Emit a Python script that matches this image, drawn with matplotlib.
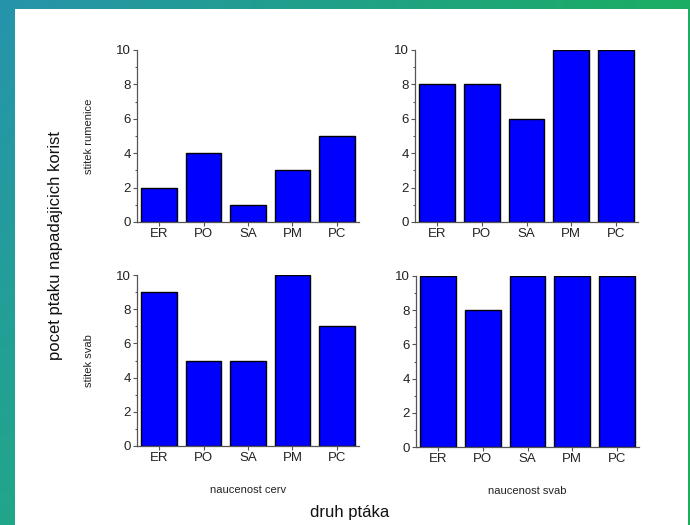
import numpy as np
import matplotlib
matplotlib.use("Agg")
import matplotlib.pyplot as plt
from matplotlib.patches import Rectangle
from matplotlib.ticker import MultipleLocator

plt.rcParams['font.family'] = ['Liberation Sans', 'DejaVu Sans']

birds = ["ER", "PO", "SA", "PM", "PC"]
# radky: stitek (rumenice, svab), sloupce: naucenost (cerv, svab)
rumenice_cerv = [2, 4, 1, 3, 5]
rumenice_svab = [8, 8, 6, 10, 10]
svab_cerv = [9, 5, 5, 10, 7]
svab_svab = [10, 8, 10, 10, 10]

W, H = 690, 525
fig = plt.figure(figsize=(W / 100, H / 100), dpi=100)

# pozadi s prechodem barev
bg = fig.add_axes([0, 0, 1, 1], zorder=-10)
xs = np.linspace(0, 1, 200)
ys = np.linspace(0, 1, 200)
X, Y = np.meshgrid(xs, ys)
c_tl = np.array([38, 148, 172]) / 255
c_tr = np.array([27, 174, 98]) / 255
c_bl = np.array([33, 166, 138]) / 255
c_br = np.array([27, 176, 90]) / 255
img = (c_tl * ((1 - X) * (1 - Y))[..., None] + c_tr * (X * (1 - Y))[..., None]
       + c_bl * ((1 - X) * Y)[..., None] + c_br * (X * Y)[..., None])
bg.imshow(img, extent=[0, 1, 0, 1], aspect="auto", origin="upper")
bg.add_patch(Rectangle((15 / W, 0), (688 - 15) / W, 1 - 9 / H,
                       facecolor="white", edgecolor="none"))
bg.set_xlim(0, 1)
bg.set_ylim(0, 1)
bg.axis("off")


def panel(rect, vals, ylabel=None, xlabel=None):
    ax = fig.add_axes(rect)
    x = np.arange(len(birds))
    ax.bar(x, vals, width=0.8, color="#0000ff", edgecolor="black", linewidth=1)
    ax.set_xlim(-0.5, 4.5)
    ax.set_ylim(0, 10)
    ax.set_xticks(x)
    ax.set_xticklabels(birds)
    ax.yaxis.set_major_locator(MultipleLocator(2))
    ax.yaxis.set_minor_locator(MultipleLocator(1))
    ax.spines["top"].set_visible(False)
    ax.spines["right"].set_visible(False)
    for s in ("left", "bottom"):
        ax.spines[s].set_color("#555555")
        ax.spines[s].set_linewidth(0.9)
    ax.tick_params(axis="both", which="major", labelsize=9.5, colors="#555555",
                   labelcolor="#222222", length=3, width=0.8, pad=1.5)
    ax.tick_params(axis="y", which="minor", length=1.5, width=0.8, colors="#555555")
    ax.set_facecolor("none")
    if ylabel:
        ax.set_ylabel(ylabel, fontsize=8, labelpad=16, color="#222222")
    if xlabel:
        ax.set_xlabel(xlabel, fontsize=8, labelpad=15, color="#222222")
    return ax


panel([137 / W, 1 - 222 / H, 222 / W, 172 / H], rumenice_cerv, ylabel="stitek rumenice")
panel([415 / W, 1 - 222 / H, 223 / W, 172 / H], rumenice_svab)
panel([137 / W, 1 - 446 / H, 222 / W, 171 / H], svab_cerv, ylabel="stitek svab",
      xlabel="naucenost cerv")
panel([416 / W, 1 - 447 / H, 223 / W, 171 / H], svab_svab, xlabel="naucenost svab")

fig.text(56 / W, 1 - 245 / H, "pocet ptaku napadajicich korist", rotation=90,
         fontsize=12, ha="center", va="center", color="#111111")
fig.text(350 / W, 1 - 513 / H, "druh ptáka", fontsize=12, ha="center",
         va="center", color="#111111")

fig.savefig("out.png", dpi=100)
